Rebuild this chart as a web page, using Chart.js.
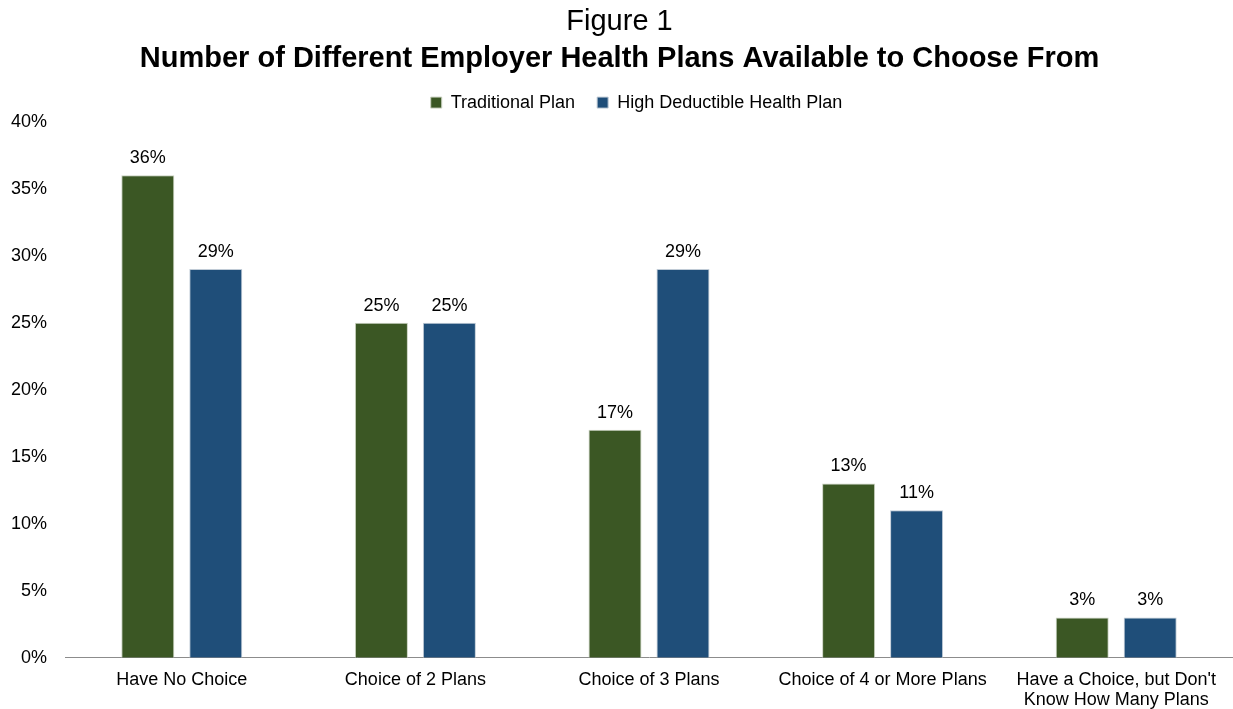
<!DOCTYPE html>
<html>
<head>
<meta charset="utf-8">
<script src="https://cdn.jsdelivr.net/npm/chart.js@4/dist/chart.umd.min.js"></script>
<style>
  html, body { margin: 0; padding: 0; background: #fff; }
  #wrap { width: 1233px; height: 709px; }
</style>
</head>
<body>
<div id="wrap"><canvas id="chart"></canvas></div>
<script>
const categories = ["Have No Choice", "Choice of 2 Plans", "Choice of 3 Plans", "Choice of 4 or More Plans", ["Have a Choice, but Don't", "Know How Many Plans"]];
const traditional = [36, 25, 17, 13, 3];
const highDeductible = [29, 25, 29, 11, 3];
const yTicks = [0, 5, 10, 15, 20, 25, 30, 35, 40];

const fontFamily = "'Liberation Sans', Arial, sans-serif";

// draw the value above every bar
const valueLabels = {
    id: 'valueLabels',
    afterDatasetsDraw(chart) {
        const ctx = chart.ctx;
        ctx.save();
        ctx.font = '18px ' + fontFamily;
        ctx.fillStyle = '#000';
        ctx.textAlign = 'center';
        ctx.textBaseline = 'bottom';
        chart.data.datasets.forEach((ds, i) => {
            chart.getDatasetMeta(i).data.forEach((bar, j) => {
                ctx.fillText(ds.data[j] + '%', bar.x, bar.y - 8);
            });
        });
        ctx.restore();
    }
};

// the legend in the original sits a bit right of centre
const legendShift = {
    id: 'legendShift',
    afterLayout(chart) {
        chart.legend.left += 17;
        chart.legend.right += 17;
    }
};

const ctx = document.getElementById('chart');
const myChart = new Chart(ctx, {
    type: 'bar',
    data: {
        labels: categories,
        datasets: [{
            label: 'Traditional Plan',
            data: traditional,
            backgroundColor: '#3b5724',
            borderColor: '#c9d1c0',
            borderWidth: 1,
            categoryPercentage: 0.582,
            barPercentage: 0.78
        }, {
            label: 'High Deductible Health Plan',
            data: highDeductible,
            backgroundColor: '#1f4e79',
            borderColor: '#c0cbd6',
            borderWidth: 1,
            categoryPercentage: 0.582,
            barPercentage: 0.78
        }]
    },
    options: {
        responsive: true,
        maintainAspectRatio: false,
        animation: false,
        layout: {
            padding: { left: 6, right: 0, top: 5, bottom: -13 }
        },
        plugins: {
            title: {
                display: true,
                text: 'Figure 1',
                color: '#000',
                font: { family: fontFamily, size: 29, weight: 'normal', lineHeight: 1.2 },
                padding: { top: 0, bottom: 2 }
            },
            subtitle: {
                display: true,
                text: 'Number of Different Employer Health Plans Available to Choose From',
                color: '#000',
                font: { family: fontFamily, size: 29, weight: 'bold', lineHeight: 1.2 },
                padding: { top: 0, bottom: -5 }
            },
            legend: {
                display: true,
                labels: {
                    color: '#000',
                    boxWidth: 11,
                    boxHeight: 11,
                    padding: 22,
                    font: { family: fontFamily, size: 18 }
                }
            },
            tooltip: { enabled: false }
        },
        scales: {
            x: {
                grid: { display: false, drawTicks: false },
                border: { display: true, color: '#8c8c8c', width: 1 },
                ticks: {
                    color: '#000',
                    maxRotation: 0,
                    autoSkip: false,
                    padding: 12,
                    font: { family: fontFamily, size: 18, lineHeight: 1.12 }
                }
            },
            y: {
                min: 0,
                max: 40,
                afterBuildTicks(axis) {
                    axis.ticks = yTicks.map(v => ({ value: v }));
                },
                afterFit(axis) {
                    axis.width = 59;
                },
                grid: { display: false, drawTicks: false },
                border: { display: false },
                ticks: {
                    color: '#000',
                    padding: 18,
                    font: { family: fontFamily, size: 18 },
                    callback: v => v + '%'
                }
            }
        }
    },
    plugins: [valueLabels, legendShift]
});
</script>
</body>
</html>
